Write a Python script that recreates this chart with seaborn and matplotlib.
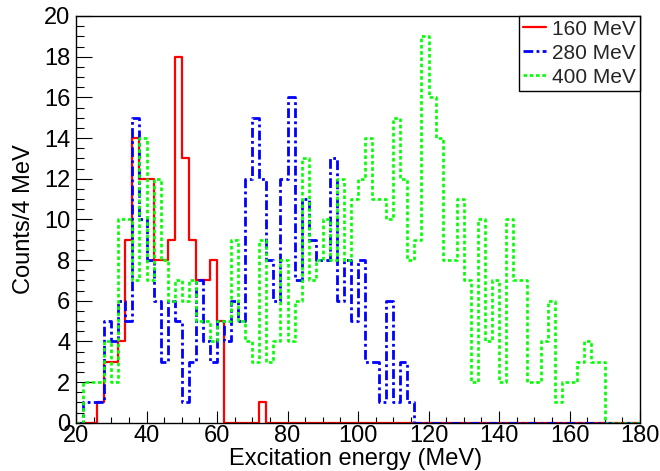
import numpy as np
import pandas as pd
import matplotlib
matplotlib.use("Agg")
import matplotlib.pyplot as plt
import seaborn as sns
from matplotlib.ticker import MultipleLocator
from matplotlib.lines import Line2D

# ---- data: 2 MeV bins from 20 to 180 MeV ----
bin_edges = list(range(20, 182, 2))
bin_centers = [e + 1 for e in bin_edges[:-1]]

counts_160 = [0, 0, 0, 1, 3, 3, 4, 9, 14, 12,
              12, 8, 8, 9, 18, 13, 9, 7, 7, 8,
              5, 0, 0, 0, 0, 0, 1, 0, 0, 0,
              0, 0, 0, 0, 0, 0, 0, 0, 0, 0,
              0, 0, 0, 0, 0, 0, 0, 0, 0, 0,
              0, 0, 0, 0, 0, 0, 0, 0, 0, 0,
              0, 0, 0, 0, 0, 0, 0, 0, 0, 0,
              0, 0, 0, 0, 0, 0, 0, 0, 0, 0]
counts_280 = [0, 1, 1, 1, 5, 4, 6, 5, 15, 10,
              8, 6, 3, 6, 5, 1, 3, 7, 4, 3,
              5, 4, 6, 5, 12, 15, 12, 8, 6, 12,
              16, 7, 11, 9, 8, 8, 13, 6, 8, 5,
              8, 3, 3, 1, 6, 1, 3, 1, 0, 0,
              0, 0, 0, 0, 0, 0, 0, 0, 0, 0,
              0, 0, 0, 0, 0, 0, 0, 0, 0, 0,
              0, 0, 0, 0, 0, 0, 0, 0, 0, 0]
counts_400 = [0, 2, 2, 2, 4, 2, 10, 10, 7, 14,
              7, 12, 8, 6, 7, 6, 7, 5, 5, 4,
              5, 5, 9, 5, 4, 3, 9, 3, 4, 8,
              4, 6, 13, 7, 8, 10, 8, 12, 8, 11,
              12, 14, 11, 11, 10, 15, 12, 8, 9, 19,
              16, 14, 8, 8, 11, 7, 2, 10, 4, 7,
              2, 10, 7, 7, 2, 2, 4, 6, 1, 2,
              2, 3, 4, 3, 3, 0, 0, 0, 0, 0]

series_labels = ["160 MeV", "280 MeV", "400 MeV"]
series_counts = [counts_160, counts_280, counts_400]
series_colors = ["#ff0000", "#0000ff", "#00ff00"]

x_ticks = [20, 40, 60, 80, 100, 120, 140, 160, 180]
y_ticks = [0, 2, 4, 6, 8, 10, 12, 14, 16, 18, 20]

# ---- style ----
sns.set_theme(style="white")
plt.rcParams["font.family"] = ["Liberation Sans", "DejaVu Sans"]
plt.rcParams["lines.scale_dashes"] = False

series_styles = [
    dict(linestyle="-", linewidth=1.6),
    dict(linestyle=(0, (7.0, 2.4, 2.0, 2.4)), linewidth=2.0),
    dict(linestyle=(0, (2.6, 1.9)), linewidth=1.9),
]

fig = plt.figure(figsize=(6.6, 4.71), dpi=100)
ax = fig.add_axes([76 / 660, 1 - 422.7 / 471, 564 / 660, 406.7 / 471])

handles = []
for lab, cnt, col, sty in zip(series_labels, series_counts, series_colors, series_styles):
    sns.histplot(x=bin_centers, weights=cnt, bins=bin_edges, element="step",
                 fill=False, color=col, ax=ax, **sty)
    handles.append(Line2D([0], [0], color=col, label=lab, **sty))

ax.set_xlim(20, 180)
ax.set_ylim(0, 20)
ax.set_xticks(x_ticks)
ax.set_yticks(y_ticks)
ax.xaxis.set_minor_locator(MultipleLocator(5))
ax.yaxis.set_minor_locator(MultipleLocator(0.5))

ax.xaxis.set_tick_params(which="major", direction="in", length=9, width=0.8,
                         color="black", bottom=True, top=False, labelsize=17, pad=2)
ax.xaxis.set_tick_params(which="minor", direction="in", length=4.5, width=0.8,
                         color="black", bottom=True, top=False)
ax.yaxis.set_tick_params(which="major", direction="in", length=11.5, width=0.8,
                         color="black", left=True, right=False, labelsize=17, pad=4)
ax.yaxis.set_tick_params(which="minor", direction="in", length=5.5, width=0.8,
                         color="black", left=True, right=False)
for lbl in ax.get_xticklabels() + ax.get_yticklabels():
    lbl.set_color("black")

for sp in ax.spines.values():
    sp.set_color("black")
    sp.set_linewidth(1.0)
    sp.set_visible(True)

ax.set_xlabel("Excitation energy (MeV)", fontsize=17, color="black")
ax.set_ylabel("Counts/4 MeV", fontsize=17, color="black")
ax.xaxis.set_label_coords(0.495, -0.063)
ax.yaxis.set_label_coords(-0.072, 0.5)

leg = ax.legend(handles=handles, loc="upper right", bbox_to_anchor=(1.0, 1.0),
                borderaxespad=0, fontsize=15, frameon=True, fancybox=False,
                edgecolor="black", framealpha=1, handlelength=1.1,
                handletextpad=0.3, labelspacing=0.24, borderpad=0.18)
leg.get_frame().set_linewidth(1.0)

fig.savefig("out.png", dpi=100)
